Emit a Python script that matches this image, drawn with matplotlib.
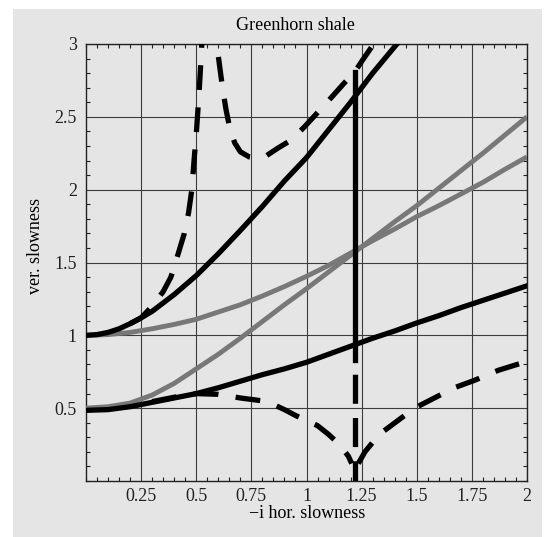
import matplotlib.pyplot as plt
from matplotlib.patches import Rectangle
from matplotlib.ticker import MultipleLocator

plt.rcParams["font.family"] = ["Liberation Serif", "DejaVu Serif"]

BG = "#e5e5e5"
GRAY = "#787878"

# ---- data ----
x_grid = [0, 0.1, 0.2, 0.3, 0.4, 0.5, 0.6, 0.7, 0.8, 0.9, 1.0,
          1.1, 1.2, 1.3, 1.4, 1.5, 1.6, 1.7, 1.8, 1.9, 2.0]

# black solid, upper branch (starts at 1)
x_up = [0, 0.05, 0.1, 0.15, 0.2, 0.25, 0.3, 0.4, 0.5, 0.6, 0.7, 0.8, 0.9, 1.0, 1.1, 1.2, 1.3, 1.41]
y_up = [1.0, 1.005, 1.02, 1.045, 1.08, 1.12, 1.165, 1.28, 1.41, 1.56, 1.72, 1.885, 2.06, 2.22,
        2.41, 2.6, 2.8, 3.0]

# black solid, lower branch (starts at ~0.49)
y_lo = [0.485, 0.49, 0.51, 0.54, 0.57, 0.60, 0.64, 0.685, 0.73, 0.77, 0.815,
        0.87, 0.925, 0.98, 1.03, 1.085, 1.135, 1.19, 1.24, 1.29, 1.34]

# gray curves
y_g1 = [1.0, 1.005, 1.02, 1.045, 1.075, 1.11, 1.16, 1.21, 1.27, 1.335, 1.405,
        1.48, 1.565, 1.65, 1.73, 1.815, 1.89, 1.97, 2.05, 2.14, 2.225]
y_g2 = [0.5, 0.51, 0.535, 0.59, 0.67, 0.77, 0.87, 0.98, 1.095, 1.21, 1.32,
        1.435, 1.55, 1.665, 1.78, 1.89, 2.01, 2.13, 2.25, 2.375, 2.5]

# black dashed, upper (left of the pole)
x_d1 = [0.2, 0.25, 0.3, 0.35, 0.385, 0.416, 0.446, 0.465, 0.48, 0.49, 0.5, 0.51, 0.518, 0.525, 0.53]
y_d1 = [1.08, 1.12, 1.2, 1.30, 1.40, 1.55, 1.70, 1.84, 2.0, 2.2, 2.38, 2.6, 2.8, 3.0, 3.2]

# black dashed, upper (right of the pole)
x_d2 = [0.588, 0.593, 0.605, 0.62, 0.635, 0.655, 0.675, 0.70, 0.74, 0.78, 0.82, 0.87,
        0.93, 0.99, 1.06, 1.12, 1.17, 1.22, 1.25, 1.30, 1.32]
y_d2 = [3.2, 3.0, 2.86, 2.69, 2.55, 2.40, 2.32, 2.26, 2.225, 2.215, 2.235, 2.285,
        2.34, 2.43, 2.545, 2.645, 2.73, 2.81, 2.88, 2.99, 3.05]

# black dashed, lower (left of the jump)
x_d3 = [0.3, 0.35, 0.4, 0.5, 0.6, 0.7, 0.8, 0.85, 0.9, 0.95, 1.0, 1.05, 1.1, 1.15, 1.19, 1.205]
y_d3 = [0.545, 0.56, 0.575, 0.60, 0.595, 0.57, 0.55, 0.525, 0.49, 0.45, 0.415, 0.38, 0.32,
        0.25, 0.17, 0.12]

# black dashed, vertical jump down to zero
x_d4 = [1.22, 1.22]
y_d4 = [0.83, 0.0]

# black dashed, lower (right of the jump)
x_d5 = [1.235, 1.265, 1.3, 1.33, 1.41, 1.49, 1.58, 1.67, 1.76, 1.87, 1.955, 2.0]
y_d5 = [0.12, 0.2, 0.265, 0.32, 0.41, 0.50, 0.57, 0.64, 0.69, 0.76, 0.80, 0.82]

# black solid vertical jump
x_v = [1.22, 1.22]
y_v = [2.81, 0.83]

x_ticks = [0.25, 0.5, 0.75, 1, 1.25, 1.5, 1.75, 2]
x_ticklabels = ["0.25", "0.5", "0.75", "1", "1.25", "1.5", "1.75", "2"]
y_ticks = [0.5, 1, 1.5, 2, 2.5, 3]
y_ticklabels = ["0.5", "1", "1.5", "2", "2.5", "3"]

# ---- figure ----
W, H = 544, 537
fig = plt.figure(figsize=(W / 100, H / 100), dpi=100)
fig.patch.set_facecolor("white")
fig.patches.append(Rectangle((13 / W, 0), 529 / W, 528 / H, transform=fig.transFigure,
                             facecolor=BG, edgecolor="none", zorder=-10))

ax = fig.add_axes([86 / W, 1 - 481 / H, 441 / W, 437 / H])
ax.set_facecolor(BG)

lw = 3.8
dash = (4.7, 3.3)
ax.plot(x_grid, y_g1, color=GRAY, lw=3.5, solid_capstyle="butt", zorder=3)
ax.plot(x_grid, y_g2, color=GRAY, lw=3.5, solid_capstyle="butt", zorder=3)
ax.plot(x_up, y_up, color="black", lw=lw, zorder=4)
ax.plot(x_grid, y_lo, color="black", lw=lw, zorder=4)
ax.plot(x_v, y_v, color="black", lw=lw, zorder=4)
for xs, ys in [(x_d1, y_d1), (x_d2, y_d2), (x_d3, y_d3), (x_d5, y_d5)]:
    ax.plot(xs, ys, color="black", lw=lw, dashes=dash, dash_capstyle="butt", zorder=4)
# vertical dashed part starts with a gap below the solid segment
ax.plot(x_d4, y_d4, color="black", lw=lw, linestyle=(5.5, (5.5, 2.7)),
        dash_capstyle="butt", zorder=4)

ax.set_xlim(0, 2)
ax.set_ylim(0, 3)
ax.set_xticks(x_ticks)
ax.set_xticklabels(x_ticklabels)
ax.set_yticks(y_ticks)
ax.set_yticklabels(y_ticklabels)
ax.xaxis.set_minor_locator(MultipleLocator(0.05))
ax.yaxis.set_minor_locator(MultipleLocator(0.1))
ax.tick_params(which="both", direction="in", top=True, right=True, colors="#222222",
               labelsize=13)
ax.tick_params(which="major", length=0)
ax.tick_params(which="minor", length=3, width=0.8)
ax.tick_params(axis="x", pad=5)
ax.tick_params(axis="y", pad=6.5)
ax.grid(True, which="major", color="#3c3c3c", lw=0.8)
for s in ax.spines.values():
    s.set_color("#222222")
    s.set_linewidth(1.0)

fig.text(295 / W, 1 - 26 / H, "Greenhorn shale", ha="center", va="center", fontsize=13)
fig.text(307 / W, 1 - 514 / H, "\u2212i hor. slowness", ha="center", va="center", fontsize=13)
fig.text(36 / W, 1 - 246 / H, "ver. slowness", ha="center", va="center", rotation=90,
         fontsize=13)

fig.savefig("out.png", dpi=100)
